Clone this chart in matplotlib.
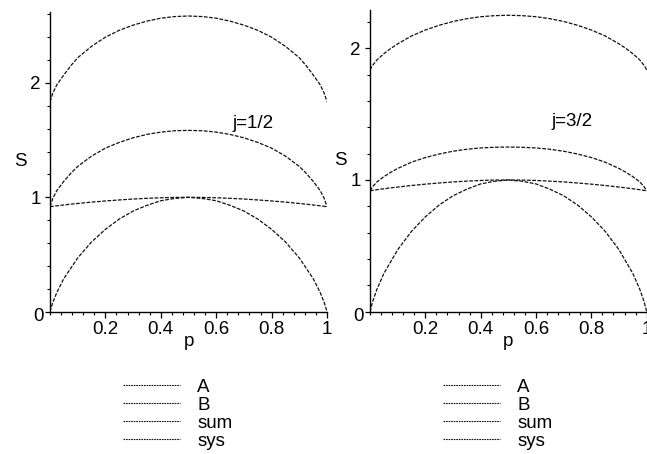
import matplotlib
matplotlib.use("Agg")
import matplotlib.pyplot as plt
from matplotlib.ticker import MultipleLocator
from matplotlib.lines import Line2D

plt.rcParams['font.family'] = ['Liberation Sans', 'DejaVu Sans']

# ---------------- data ----------------
p = [0, 0.01, 0.025, 0.05, 0.075, 0.1, 0.15, 0.2, 0.25, 0.3, 0.35, 0.4, 0.45, 0.5,
     0.55, 0.6, 0.65, 0.7, 0.75, 0.8, 0.85, 0.9, 0.925, 0.95, 0.975, 0.99, 1]

# j = 1/2 panel
A_half = [0, 0.08, 0.17, 0.29, 0.38, 0.47, 0.61, 0.72, 0.81, 0.88, 0.93, 0.97, 0.99, 1.0,
          0.99, 0.97, 0.93, 0.88, 0.81, 0.72, 0.61, 0.47, 0.38, 0.29, 0.17, 0.08, 0]
sys_half = [0.918, 0.921, 0.926, 0.933, 0.940, 0.946, 0.958, 0.968, 0.977, 0.985, 0.991, 0.996, 0.999, 1.0,
            0.999, 0.996, 0.991, 0.985, 0.977, 0.968, 0.958, 0.946, 0.940, 0.933, 0.926, 0.921, 0.918]
B_half = [0.918, 0.99, 1.06, 1.14, 1.21, 1.27, 1.36, 1.43, 1.48, 1.52, 1.55, 1.57, 1.582, 1.585,
          1.582, 1.57, 1.55, 1.52, 1.48, 1.43, 1.36, 1.27, 1.21, 1.14, 1.06, 0.99, 0.918]
sum_half = [1.836, 1.91, 1.985, 2.07, 2.15, 2.22, 2.32, 2.40, 2.46, 2.505, 2.54, 2.566, 2.58, 2.585,
            2.58, 2.566, 2.54, 2.505, 2.46, 2.40, 2.32, 2.22, 2.15, 2.07, 1.985, 1.91, 1.836]

# j = 3/2 panel
A_3half = [0, 0.08, 0.17, 0.29, 0.38, 0.47, 0.61, 0.72, 0.81, 0.88, 0.93, 0.97, 0.99, 1.0,
           0.99, 0.97, 0.93, 0.88, 0.81, 0.72, 0.61, 0.47, 0.38, 0.29, 0.17, 0.08, 0]
sys_3half = [0.918, 0.921, 0.926, 0.933, 0.940, 0.946, 0.958, 0.968, 0.977, 0.985, 0.991, 0.996, 0.999, 1.0,
             0.999, 0.996, 0.991, 0.985, 0.977, 0.968, 0.958, 0.946, 0.940, 0.933, 0.926, 0.921, 0.918]
B_3half = [0.918, 0.95, 0.985, 1.025, 1.058, 1.087, 1.135, 1.17, 1.197, 1.218, 1.233, 1.243, 1.248, 1.25,
           1.248, 1.243, 1.233, 1.218, 1.197, 1.17, 1.135, 1.087, 1.058, 1.025, 0.985, 0.95, 0.918]
sum_3half = [1.836, 1.871, 1.911, 1.958, 1.998, 2.033, 2.093, 2.138, 2.174, 2.203, 2.224, 2.239, 2.247, 2.25,
             2.247, 2.239, 2.224, 2.203, 2.174, 2.138, 2.093, 2.033, 1.998, 1.958, 1.911, 1.871, 1.836]

series_names = ["A", "B", "sum", "sys"]
panel_titles = ["j=1/2", "j=3/2"]
xtick_vals = [0.2, 0.4, 0.6, 0.8, 1.0]
xtick_labels = ["0.2", "0.4", "0.6", "0.8", "1"]
ytick_vals = [0, 1, 2]
ytick_labels = ["", "1", "2"]

# ---------------- figure ----------------
W, H = 647, 454
fig = plt.figure(figsize=(W / 100, H / 100), dpi=100)

FS = 13.5
ls = (0, (3.0, 1.2))
lw = 0.9
col = "#111111"

def px_axes(x0, x1, y_top, y_zero):
    return [x0 / W, 1 - y_zero / H, (x1 - x0) / W, (y_zero - y_top) / H]

ax1 = fig.add_axes(px_axes(50, 327, 12, 311.7))
ax2 = fig.add_axes(px_axes(370, 646.7, 10, 311.7))

panels = [
    (ax1, 2.62, [A_half, B_half, sum_half, sys_half], panel_titles[0], 1.647, 123 / W),
    (ax2, 2.29, [A_3half, B_3half, sum_3half, sys_3half], panel_titles[1], 1.44, 443 / W),
]

for ax, ymax, ys, title, ty, legx in panels:
    for y in ys:
        ax.plot(p, y, color=col, lw=lw, linestyle=ls)
    ax.set_xlim(0, 1)
    ax.set_ylim(0, ymax)
    for s in ("top", "right"):
        ax.spines[s].set_visible(False)
    for s in ("left", "bottom"):
        ax.spines[s].set_linewidth(1.0)
        ax.spines[s].set_color("black")
    ax.set_xticks(xtick_vals)
    ax.set_xticklabels(xtick_labels)
    ax.set_yticks(ytick_vals)
    ax.set_yticklabels(ytick_labels)
    ax.xaxis.set_minor_locator(MultipleLocator(0.04))
    ax.yaxis.set_minor_locator(MultipleLocator(0.2))
    ax.tick_params(axis="x", which="major", direction="out", length=4, width=0.9, pad=3, labelsize=FS)
    ax.tick_params(axis="x", which="minor", direction="out", length=2.5, width=0.8)
    ax.tick_params(axis="y", which="major", direction="out", length=3.5, width=0.9, pad=3, labelsize=FS)
    ax.tick_params(axis="y", which="minor", direction="out", length=2.5, width=0.8)
    ax.set_facecolor("none")
    # labels
    ax.text(-0.108, 0.5, "S", transform=ax.transAxes, ha="center", va="center", fontsize=FS)
    ax.text(0.5, -0.098, "p", transform=ax.transAxes, ha="center", va="center", fontsize=FS)
    ax.text(-0.04, -0.016, "0", transform=ax.transAxes, ha="center", va="center", fontsize=FS)
    ax.text(0.657, ty, title, ha="left", va="center", fontsize=FS)
    # legend
    handles = [Line2D([], [], color=col, lw=0.8, linestyle=(0, (1.5, 0.8))) for _ in series_names]
    ax.legend(handles, series_names, loc="upper left", bbox_to_anchor=(legx, 0.166),
              bbox_transform=fig.transFigure, frameon=False, fontsize=FS,
              handlelength=3.05, handletextpad=0.92, labelspacing=0.05,
              borderpad=0, borderaxespad=0)

fig.savefig("out.png", dpi=100)
